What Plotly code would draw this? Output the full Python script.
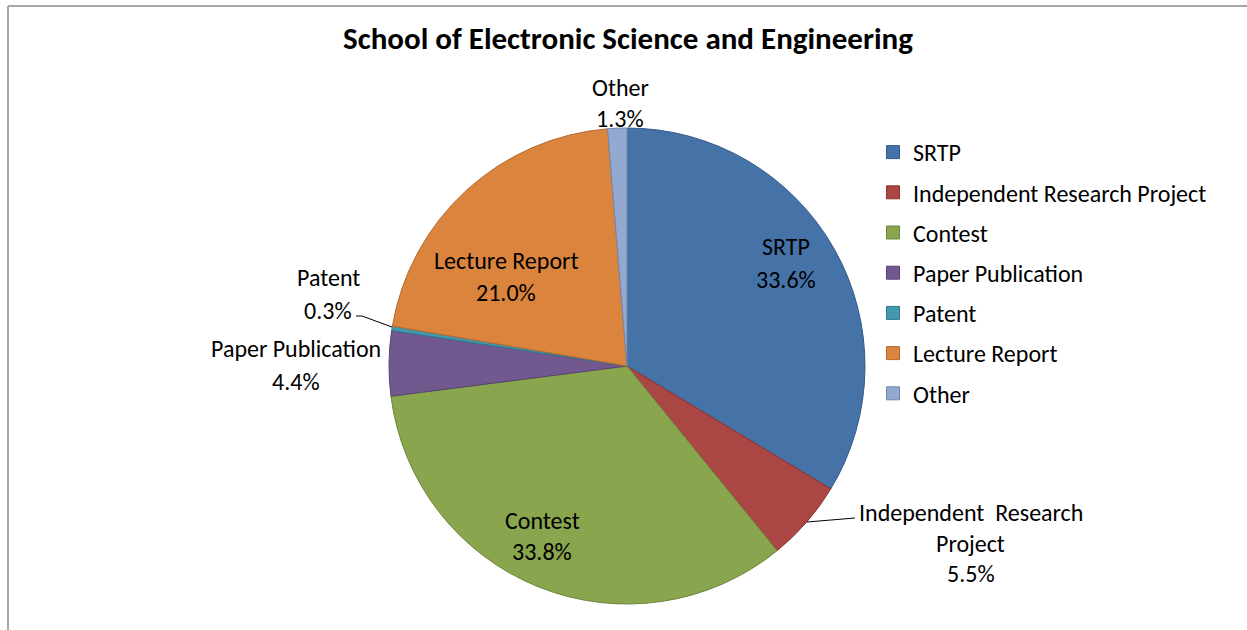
import plotly.graph_objects as go

categories = ["SRTP", "Independent Research Project", "Contest", "Paper Publication",
              "Patent", "Lecture Report", "Other"]
values = [33.6, 5.5, 33.8, 4.4, 0.3, 21.0, 1.3]
colors = ["#4572A7", "#AA4643", "#89A54E", "#71588F", "#4198AF", "#DB843D", "#93A9CF"]
edge_colors = ["#35598a", "#8a3432", "#6d853c", "#574370", "#30798c", "#b4692d", "#7088b0"]
pct_labels = ["33.6%", "5.5%", "33.8%", "4.4%", "0.3%", "21.0%", "1.3%"]

W, H = 1247, 630
FONT = "Carlito, Lato, 'Open Sans', sans-serif"

def px(x):
    return x / W

def py(y):
    return 1 - y / H

fig = go.Figure()
fig.add_trace(go.Pie(
    labels=categories, values=values, sort=False, direction="clockwise", rotation=0,
    marker=dict(colors=colors, line=dict(color=edge_colors, width=1)),
    textinfo="none", hoverinfo="label+percent", showlegend=False,
    domain=dict(x=[px(389), px(865)], y=[py(604), py(128)]),
))

# legend via proxy entries
for i, (c, col) in enumerate(zip(categories, colors)):
    fig.add_trace(go.Scatter(
        x=[None], y=[None], mode="markers", name=c, legendgroup=str(i),
        marker=dict(symbol="square", size=13, color=col, line=dict(color=edge_colors[i], width=1)),
    ))

# label lines: (text, x, y)
label_lines = [
    (categories[0], 786, 247), (pct_labels[0], 786, 279),
    ("Independent  Research", 971, 512), ("Project", 971, 543), (pct_labels[1], 971, 573),
    (categories[2], 542, 520), (pct_labels[2], 542, 551),
    (categories[3], 296, 348), (pct_labels[3], 296, 381),
    (categories[4], 328, 277), (pct_labels[4], 328, 310),
    (categories[5], 506, 260), (pct_labels[5], 506, 292),
    (categories[6], 620, 88), (pct_labels[6], 620, 118),
]
annotations = []
for t, x, y in label_lines:
    annotations.append(dict(text=t, x=px(x), y=py(y), xref="paper", yref="paper",
                            showarrow=False, xanchor="center", yanchor="middle",
                            font=dict(family=FONT, size=24, color="#000000")))

shapes = [
    # leader lines
    dict(type="path", xref="paper", yref="paper",
         path=f"M {px(356)} {py(316)} L {px(362)} {py(316)} L {px(392)} {py(327)}",
         line=dict(color="#000000", width=1)),
    dict(type="path", xref="paper", yref="paper",
         path=f"M {px(855)} {py(518)} L {px(807)} {py(522)}",
         line=dict(color="#000000", width=1)),
    # chart frame (top and left edges)
    dict(type="line", xref="paper", yref="paper", x0=px(8), x1=1, y0=py(6), y1=py(6),
         line=dict(color="#a6a6a6", width=2)),
    dict(type="line", xref="paper", yref="paper", x0=px(8), x1=px(8), y0=py(6), y1=0,
         line=dict(color="#a6a6a6", width=2)),
]

fig.update_layout(
    width=W, height=H,
    margin=dict(l=0, r=0, t=0, b=0),
    paper_bgcolor="white", plot_bgcolor="white",
    title=dict(text="<b>School of Electronic Science and Engineering</b>",
               x=px(628), y=py(38), xanchor="center", yanchor="middle",
               font=dict(family=FONT, size=31, color="#000000")),
    xaxis=dict(visible=False), yaxis=dict(visible=False),
    legend=dict(x=px(873), y=py(130), xanchor="left", yanchor="top",
                font=dict(family=FONT, size=24, color="#000000"),
                tracegroupgap=6, itemclick=False, bgcolor="rgba(0,0,0,0)"),
    annotations=annotations,
    shapes=shapes,
)

fig.write_html("out.html")
